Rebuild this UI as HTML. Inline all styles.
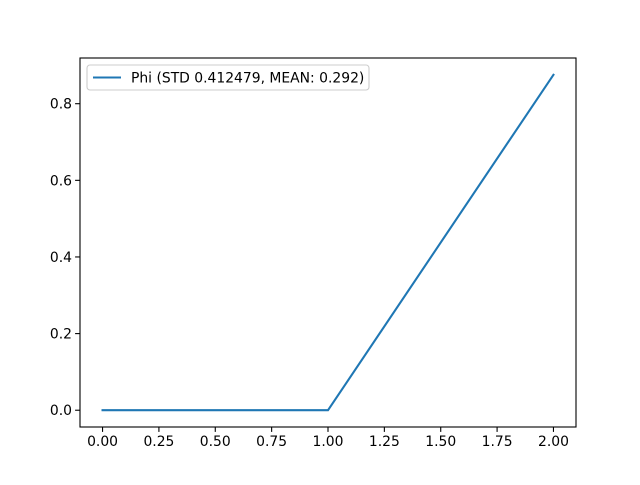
<!DOCTYPE html>
<html><head><meta charset="utf-8"><style>body{margin:0;background:#fff}svg{font-family:"DejaVu Sans","Liberation Sans",sans-serif}</style></head>
<body>
<svg id="c" width="640" height="480"></svg>
<script>
const xValues=[0,1,2];
const yValues=[0,0,0.8755];
const xTicks=[0,0.25,0.5,0.75,1,1.25,1.5,1.75,2];
const xTickLabels=["0.00","0.25","0.50","0.75","1.00","1.25","1.50","1.75","2.00"];
const yTicks=[0,0.2,0.4,0.6,0.8];
const yTickLabels=["0.0","0.2","0.4","0.6","0.8"];
const legendLabel="Phi (STD 0.412479, MEAN: 0.292)";
const NS="http://www.w3.org/2000/svg";
const svg=document.getElementById('c');
const L=80,R=576,T=58,B=427;
const xmin=Math.min(...xValues),xmax=Math.max(...xValues),ymin=Math.min(...yValues),ymax=Math.max(...yValues);
const xlo=xmin-(xmax-xmin)*0.05,xhi=xmax+(xmax-xmin)*0.05,ylo=ymin-(ymax-ymin)*0.05,yhi=ymax+(ymax-ymin)*0.05;
const sx=v=>L+(v-xlo)/(xhi-xlo)*(R-L);
const sy=v=>B-(v-ylo)/(yhi-ylo)*(B-T);
function el(t,a,p){const e=document.createElementNS(NS,t);for(const k in a)e.setAttribute(k,a[k]);(p||svg).appendChild(e);return e;}
const line=el('polyline',{points:xValues.map((x,i)=>sx(x)+','+sy(yValues[i])).join(' '),fill:'none',stroke:'#1f77b4','stroke-width':2.08,'stroke-linecap':'square'});


xTicks.forEach((v,i)=>{const x=sx(v);
 const t=el('line',{x1:x,x2:x,y1:B,y2:B+4.9,stroke:'#000','stroke-width':1.1});
 
 
 const tx=el('text',{x:x,y:B+19,'text-anchor':'middle','font-size':13.9});tx.textContent=xTickLabels[i];
 
 });
yTicks.forEach((v,i)=>{const y=sy(v);
 const t=el('line',{x1:L-4.9,x2:L,y1:y,y2:y,stroke:'#000','stroke-width':1.1});
 
 
 const tx=el('text',{x:L-8,y:y+5,'text-anchor':'end','font-size':13.9});tx.textContent=yTickLabels[i];
 
 });
const fr=el('rect',{x:L,y:T,width:R-L,height:B-T,fill:'none',stroke:'#000','stroke-width':1.1});


const g=el('g',{});


el('rect',{x:87,y:65,width:282,height:25,rx:3,fill:'#fff','fill-opacity':0.8,stroke:'#ccc','stroke-width':1.1},g);
el('line',{x1:93,x2:121,y1:77.5,y2:77.5,stroke:'#1f77b4','stroke-width':2.08},g);
const lt=el('text',{x:131,y:82.5,'font-size':13.9},g);lt.textContent=legendLabel;


</script>
</body></html>
